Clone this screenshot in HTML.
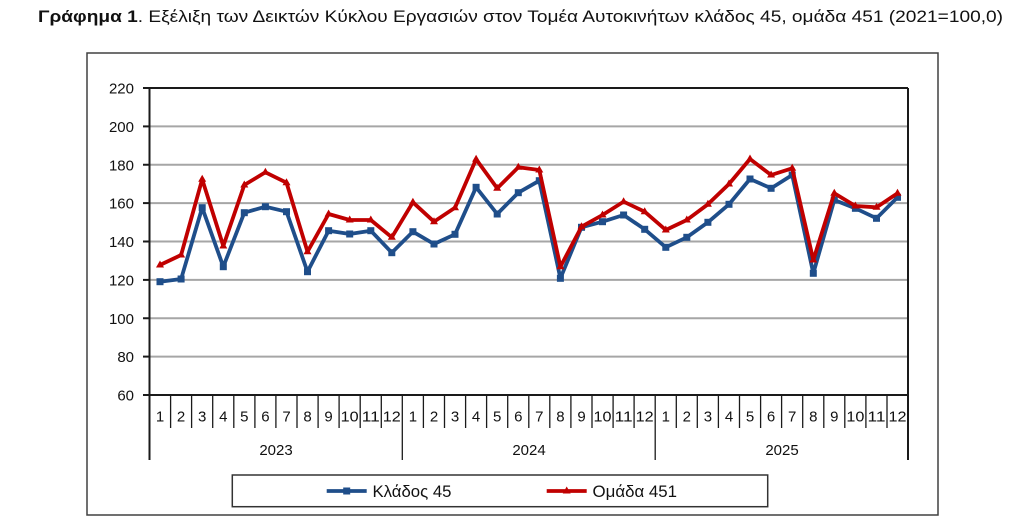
<!DOCTYPE html>
<html>
<head>
<meta charset="utf-8">
<style>
html,body{margin:0;padding:0;background:#fff;}
svg{display:block;}
text{font-family:"Liberation Sans","DejaVu Sans",sans-serif;fill:#111;}
</style>
</head>
<body>
<svg width="1024" height="526" viewBox="0 0 1024 526" xmlns="http://www.w3.org/2000/svg">
  <!-- Title -->
  <text x="38" y="22" font-size="17" textLength="965" lengthAdjust="spacingAndGlyphs"><tspan font-weight="bold">Γράφημα 1</tspan>. Εξέλιξη των Δεικτών Κύκλου Εργασιών στον Τομέα Αυτοκινήτων κλάδος 45, ομάδα 451 (2021=100,0)</text>

  <!-- Outer border -->
  <rect x="87" y="53" width="851" height="462" fill="#fff" stroke="#404040" stroke-width="1.5"/>

  <!-- Gridlines -->
  <g stroke="#a6a6a6" stroke-width="2">
    <line x1="149.5" y1="126.4" x2="908" y2="126.4"/>
    <line x1="149.5" y1="164.75" x2="908" y2="164.75"/>
    <line x1="149.5" y1="203.1" x2="908" y2="203.1"/>
    <line x1="149.5" y1="241.5" x2="908" y2="241.5"/>
    <line x1="149.5" y1="279.9" x2="908" y2="279.9"/>
    <line x1="149.5" y1="318.25" x2="908" y2="318.25"/>
    <line x1="149.5" y1="356.6" x2="908" y2="356.6"/>
  </g>
  <!-- Plot border -->
  <g stroke="#1a1a1a" stroke-width="2" fill="none">
    <line x1="149.5" y1="88" x2="908" y2="88"/>
    <line x1="149.5" y1="395" x2="908" y2="395"/>
    <line x1="149.5" y1="88" x2="149.5" y2="460"/>
    <line x1="908" y1="88" x2="908" y2="460"/>
  </g>
  <!-- Y ticks -->
  <g stroke="#1a1a1a" stroke-width="2">
    <line x1="143" y1="88" x2="149.5" y2="88"/>
    <line x1="143" y1="126.4" x2="149.5" y2="126.4"/>
    <line x1="143" y1="164.75" x2="149.5" y2="164.75"/>
    <line x1="143" y1="203.1" x2="149.5" y2="203.1"/>
    <line x1="143" y1="241.5" x2="149.5" y2="241.5"/>
    <line x1="143" y1="279.9" x2="149.5" y2="279.9"/>
    <line x1="143" y1="318.25" x2="149.5" y2="318.25"/>
    <line x1="143" y1="356.6" x2="149.5" y2="356.6"/>
    <line x1="143" y1="395" x2="149.5" y2="395"/>
  </g>
  <!-- Y labels -->
  <g font-size="15" text-anchor="end">
    <text x="134" y="93.5">220</text>
    <text x="134" y="131.9">200</text>
    <text x="134" y="170.25">180</text>
    <text x="134" y="208.6">160</text>
    <text x="134" y="247">140</text>
    <text x="134" y="285.4">120</text>
    <text x="134" y="323.75">100</text>
    <text x="134" y="362.1">80</text>
    <text x="134" y="400.5">60</text>
  </g>

  <!-- Month separators -->
  <g stroke="#1a1a1a" stroke-width="1.3">
    <line x1="170.6" y1="395" x2="170.6" y2="428"/>
    <line x1="191.6" y1="395" x2="191.6" y2="428"/>
    <line x1="212.7" y1="395" x2="212.7" y2="428"/>
    <line x1="233.8" y1="395" x2="233.8" y2="428"/>
    <line x1="254.9" y1="395" x2="254.9" y2="428"/>
    <line x1="275.9" y1="395" x2="275.9" y2="428"/>
    <line x1="297.0" y1="395" x2="297.0" y2="428"/>
    <line x1="318.1" y1="395" x2="318.1" y2="428"/>
    <line x1="339.1" y1="395" x2="339.1" y2="428"/>
    <line x1="360.2" y1="395" x2="360.2" y2="428"/>
    <line x1="381.3" y1="395" x2="381.3" y2="428"/>
    <line x1="402.3" y1="395" x2="402.3" y2="460"/>
    <line x1="423.4" y1="395" x2="423.4" y2="428"/>
    <line x1="444.5" y1="395" x2="444.5" y2="428"/>
    <line x1="465.6" y1="395" x2="465.6" y2="428"/>
    <line x1="486.6" y1="395" x2="486.6" y2="428"/>
    <line x1="507.7" y1="395" x2="507.7" y2="428"/>
    <line x1="528.8" y1="395" x2="528.8" y2="428"/>
    <line x1="549.8" y1="395" x2="549.8" y2="428"/>
    <line x1="570.9" y1="395" x2="570.9" y2="428"/>
    <line x1="592.0" y1="395" x2="592.0" y2="428"/>
    <line x1="613.1" y1="395" x2="613.1" y2="428"/>
    <line x1="634.1" y1="395" x2="634.1" y2="428"/>
    <line x1="655.2" y1="395" x2="655.2" y2="460"/>
    <line x1="676.3" y1="395" x2="676.3" y2="428"/>
    <line x1="697.3" y1="395" x2="697.3" y2="428"/>
    <line x1="718.4" y1="395" x2="718.4" y2="428"/>
    <line x1="739.5" y1="395" x2="739.5" y2="428"/>
    <line x1="760.6" y1="395" x2="760.6" y2="428"/>
    <line x1="781.6" y1="395" x2="781.6" y2="428"/>
    <line x1="802.7" y1="395" x2="802.7" y2="428"/>
    <line x1="823.8" y1="395" x2="823.8" y2="428"/>
    <line x1="844.8" y1="395" x2="844.8" y2="428"/>
    <line x1="865.9" y1="395" x2="865.9" y2="428"/>
    <line x1="887.0" y1="395" x2="887.0" y2="428"/>
  </g>

  <!-- Month labels -->
  <g font-size="15" text-anchor="middle">
    <text x="160.0" y="421.5">1</text><text x="181.1" y="421.5">2</text><text x="202.2" y="421.5">3</text><text x="223.3" y="421.5">4</text><text x="244.3" y="421.5">5</text><text x="265.4" y="421.5">6</text><text x="286.5" y="421.5">7</text><text x="307.5" y="421.5">8</text><text x="328.6" y="421.5">9</text><text x="349.7" y="421.5" textLength="18" lengthAdjust="spacingAndGlyphs">10</text><text x="370.8" y="421.5" textLength="18" lengthAdjust="spacingAndGlyphs">11</text><text x="391.8" y="421.5" textLength="18" lengthAdjust="spacingAndGlyphs">12</text>
    <text x="412.9" y="421.5">1</text><text x="434.0" y="421.5">2</text><text x="455.0" y="421.5">3</text><text x="476.1" y="421.5">4</text><text x="497.2" y="421.5">5</text><text x="518.3" y="421.5">6</text><text x="539.3" y="421.5">7</text><text x="560.4" y="421.5">8</text><text x="581.5" y="421.5">9</text><text x="602.5" y="421.5" textLength="18" lengthAdjust="spacingAndGlyphs">10</text><text x="623.6" y="421.5" textLength="18" lengthAdjust="spacingAndGlyphs">11</text><text x="644.7" y="421.5" textLength="18" lengthAdjust="spacingAndGlyphs">12</text>
    <text x="665.8" y="421.5">1</text><text x="686.8" y="421.5">2</text><text x="707.9" y="421.5">3</text><text x="729.0" y="421.5">4</text><text x="750.0" y="421.5">5</text><text x="771.1" y="421.5">6</text><text x="792.2" y="421.5">7</text><text x="813.3" y="421.5">8</text><text x="834.3" y="421.5">9</text><text x="855.4" y="421.5" textLength="18" lengthAdjust="spacingAndGlyphs">10</text><text x="876.5" y="421.5" textLength="18" lengthAdjust="spacingAndGlyphs">11</text><text x="897.5" y="421.5" textLength="18" lengthAdjust="spacingAndGlyphs">12</text>
  </g>
  <!-- Year labels -->
  <g font-size="15" text-anchor="middle">
    <text x="276" y="455">2023</text>
    <text x="529" y="455">2024</text>
    <text x="782" y="455">2025</text>
  </g>

  <!-- Blue series -->
  <polyline fill="none" stroke="#1f4e8a" stroke-width="3.8" stroke-linejoin="round"
    points="160.0,281.7 181.1,279 202.2,207.7 223.3,266.7 244.3,212.7 265.4,206.7 286.5,211.7 307.5,271.7 328.6,230.7 349.7,234 370.8,230.7 391.8,252.7 412.9,231.7 434.0,244 455.0,234.3 476.1,187.3 497.2,214 518.3,192.7 539.3,180.7 560.4,278.3 581.5,227.3 602.5,221.7 623.6,215 644.7,229.3 665.8,247.3 686.8,237.3 707.9,222.3 729.0,204.3 750.0,179 771.1,188.3 792.2,175 813.3,273.3 834.3,200 855.4,208.3 876.5,218.3 897.5,197.3"/>
  <g fill="#1f4e8a">
    <rect x="156.5" y="278.2" width="7" height="7"/><rect x="177.6" y="275.5" width="7" height="7"/><rect x="198.7" y="204.2" width="7" height="7"/><rect x="219.8" y="263.2" width="7" height="7"/><rect x="240.8" y="209.2" width="7" height="7"/><rect x="261.9" y="203.2" width="7" height="7"/><rect x="283.0" y="208.2" width="7" height="7"/><rect x="304.0" y="268.2" width="7" height="7"/><rect x="325.1" y="227.2" width="7" height="7"/><rect x="346.2" y="230.5" width="7" height="7"/><rect x="367.3" y="227.2" width="7" height="7"/><rect x="388.3" y="249.2" width="7" height="7"/>
    <rect x="409.4" y="228.2" width="7" height="7"/><rect x="430.5" y="240.5" width="7" height="7"/><rect x="451.5" y="230.8" width="7" height="7"/><rect x="472.6" y="183.8" width="7" height="7"/><rect x="493.7" y="210.5" width="7" height="7"/><rect x="514.8" y="189.2" width="7" height="7"/><rect x="535.8" y="177.2" width="7" height="7"/><rect x="556.9" y="274.8" width="7" height="7"/><rect x="578.0" y="223.8" width="7" height="7"/><rect x="599.0" y="218.2" width="7" height="7"/><rect x="620.1" y="211.5" width="7" height="7"/><rect x="641.2" y="225.8" width="7" height="7"/>
    <rect x="662.3" y="243.8" width="7" height="7"/><rect x="683.3" y="233.8" width="7" height="7"/><rect x="704.4" y="218.8" width="7" height="7"/><rect x="725.5" y="200.8" width="7" height="7"/><rect x="746.5" y="175.5" width="7" height="7"/><rect x="767.6" y="184.8" width="7" height="7"/><rect x="788.7" y="171.5" width="7" height="7"/><rect x="809.8" y="269.8" width="7" height="7"/><rect x="830.8" y="196.5" width="7" height="7"/><rect x="851.9" y="204.8" width="7" height="7"/><rect x="873.0" y="214.8" width="7" height="7"/><rect x="894.0" y="193.8" width="7" height="7"/>
  </g>

  <!-- Red series -->
  <polyline fill="none" stroke="#c00000" stroke-width="3.8" stroke-linejoin="round"
    points="160.0,265 181.1,255 202.2,179.3 223.3,246 244.3,185 265.4,172.3 286.5,182.7 307.5,251.7 328.6,214 349.7,220 370.8,220 391.8,237.3 412.9,202.3 434.0,221.7 455.0,207.7 476.1,159.3 497.2,188.3 518.3,167.3 539.3,170 560.4,266.7 581.5,226.7 602.5,215 623.6,201.7 644.7,211.7 665.8,230 686.8,220 707.9,204.3 729.0,184 750.0,159 771.1,175 792.2,168.3 813.3,260 834.3,193.3 855.4,206 876.5,207.3 897.5,193.3"/>
  <g fill="#c00000">
    <path d="M160.0,260.5 l4,7 h-8z"/><path d="M181.1,250.5 l4,7 h-8z"/><path d="M202.2,174.8 l4,7 h-8z"/><path d="M223.3,241.5 l4,7 h-8z"/><path d="M244.3,180.5 l4,7 h-8z"/><path d="M265.4,167.8 l4,7 h-8z"/><path d="M286.5,178.2 l4,7 h-8z"/><path d="M307.5,247.2 l4,7 h-8z"/><path d="M328.6,209.5 l4,7 h-8z"/><path d="M349.7,215.5 l4,7 h-8z"/><path d="M370.8,215.5 l4,7 h-8z"/><path d="M391.8,232.8 l4,7 h-8z"/>
    <path d="M412.9,197.8 l4,7 h-8z"/><path d="M434.0,217.2 l4,7 h-8z"/><path d="M455.0,203.2 l4,7 h-8z"/><path d="M476.1,154.8 l4,7 h-8z"/><path d="M497.2,183.8 l4,7 h-8z"/><path d="M518.3,162.8 l4,7 h-8z"/><path d="M539.3,165.5 l4,7 h-8z"/><path d="M560.4,262.2 l4,7 h-8z"/><path d="M581.5,222.2 l4,7 h-8z"/><path d="M602.5,210.5 l4,7 h-8z"/><path d="M623.6,197.2 l4,7 h-8z"/><path d="M644.7,207.2 l4,7 h-8z"/>
    <path d="M665.8,225.5 l4,7 h-8z"/><path d="M686.8,215.5 l4,7 h-8z"/><path d="M707.9,199.8 l4,7 h-8z"/><path d="M729.0,179.5 l4,7 h-8z"/><path d="M750.0,154.5 l4,7 h-8z"/><path d="M771.1,170.5 l4,7 h-8z"/><path d="M792.2,163.8 l4,7 h-8z"/><path d="M813.3,255.5 l4,7 h-8z"/><path d="M834.3,188.8 l4,7 h-8z"/><path d="M855.4,201.5 l4,7 h-8z"/><path d="M876.5,202.8 l4,7 h-8z"/><path d="M897.5,188.8 l4,7 h-8z"/>
  </g>

  <!-- Legend -->
  <rect x="232.3" y="475" width="535.4" height="31.7" fill="#fff" stroke="#333" stroke-width="1.5"/>
  <line x1="326.7" y1="491" x2="366.7" y2="491" stroke="#1f4e8a" stroke-width="3.8"/>
  <rect x="343.2" y="487.5" width="7" height="7" fill="#1f4e8a"/>
  <text x="372.5" y="497" font-size="17" textLength="79" lengthAdjust="spacingAndGlyphs">Κλάδος 45</text>
  <line x1="546.7" y1="491" x2="586.7" y2="491" stroke="#c00000" stroke-width="3.8"/>
  <path d="M566.7,486.5 l4,7 h-8z" fill="#c00000"/>
  <text x="592.5" y="497" font-size="17" textLength="84.5" lengthAdjust="spacingAndGlyphs">Ομάδα 451</text>
</svg>
</body>
</html>
